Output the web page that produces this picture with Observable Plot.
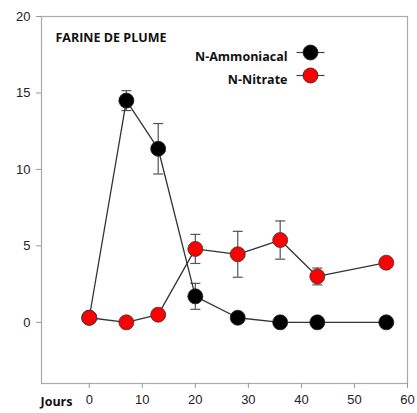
<!DOCTYPE html>
<html><head><meta charset="utf-8">
<script src="https://cdn.jsdelivr.net/npm/d3@7"></script>
<script src="https://cdn.jsdelivr.net/npm/@observablehq/plot@0.6"></script>
<style>body{margin:0;background:#fff}</style>
</head><body><div id="chart"></div>
<script>
const days = [0, 7, 13, 20, 28, 36, 43, 56];
const ammonia = [0.3, 14.5, 11.35, 1.7, 0.3, 0, 0, 0];
const ammoniaErr = [0, 0.65, 1.65, 0.85, 0, 0, 0, 0];
const nitrate = [0.3, 0, 0.5, 4.8, 4.45, 5.38, 3.0, 3.9];
const nitrateErr = [0, 0, 0, 0.95, 1.5, 1.25, 0.55, 0];
const xTicks = [0, 10, 20, 30, 40, 50, 60];
const yTicks = [0, 5, 10, 15, 20];
const seriesNames = ["N-Ammoniacal", "N-Nitrate"];
const seriesColors = ["#000000", "#ff0000"];
const title = "FARINE DE PLUME";
const xLabel = "Jours";

const amm = days.map((d, i) => ({x: d, y: ammonia[i], e: ammoniaErr[i]}));
const nit = days.map((d, i) => ({x: d, y: nitrate[i], e: nitrateErr[i]}));
const errs = [...amm, ...nit].filter(d => d.e > 0);
const cap = {draw(ctx) { ctx.moveTo(-5, 0); ctx.lineTo(5, 0); }};
const dash = {draw(ctx) { ctx.moveTo(-14, 0); ctx.lineTo(14, 0); }};
const bodyFont = "Liberation Sans, Arial, sans-serif";
const boldFont = "Open Sans, sans-serif";

const legendMarks = seriesNames.flatMap((s, i) => {
  const dy = 36 + i * 23;
  return [
    Plot.text([s], {frameAnchor: "top-left", dx: 246, dy, text: d => d, textAnchor: "end", fontWeight: "bold", fontFamily: boldFont, fontSize: 12.5, fill: "#111"}),
    Plot.dot([s], {frameAnchor: "top-left", dx: 269, dy, symbol: dash, stroke: "#444", strokeWidth: 1.2}),
    Plot.dot([s], {frameAnchor: "top-left", dx: 269, dy, r: 7.5, fill: seriesColors[i], stroke: "#222", strokeWidth: 0.8})
  ];
});

const chart = Plot.plot({
  width: 417, height: 413,
  marginLeft: 41, marginTop: 16, marginRight: 10, marginBottom: 30,
  style: {fontFamily: bodyFont, fontSize: "13px", color: "#222", background: "#fff"},
  x: {domain: [-9, 60], ticks: xTicks},
  y: {domain: [-4, 20], ticks: yTicks},
  marks: [
    Plot.frame({stroke: "#aaa", strokeWidth: 1.2}),
    Plot.axisX({ticks: xTicks, tickSize: 5, tickPadding: 6, stroke: "#999", fill: "#222", label: null, fontSize: 13}),
    Plot.axisY({ticks: yTicks, tickSize: 5, tickPadding: 6, stroke: "#999", fill: "#222", label: null, fontSize: 13}),
    Plot.ruleX(errs, {x: "x", y1: d => d.y - d.e, y2: d => d.y + d.e, stroke: "#555", strokeWidth: 1.2}),
    Plot.dot(errs, {x: "x", y: d => d.y - d.e, symbol: cap, stroke: "#555", strokeWidth: 1.2}),
    Plot.dot(errs, {x: "x", y: d => d.y + d.e, symbol: cap, stroke: "#555", strokeWidth: 1.2}),
    Plot.line(amm, {x: "x", y: "y", stroke: "#333", strokeWidth: 1.3}),
    Plot.dot(amm, {x: "x", y: "y", r: 7.5, fill: seriesColors[0], stroke: "#222", strokeWidth: 0.8}),
    Plot.line(nit, {x: "x", y: "y", stroke: "#333", strokeWidth: 1.3}),
    Plot.dot(nit, {x: "x", y: "y", r: 7.5, fill: seriesColors[1], stroke: "#333", strokeWidth: 0.8}),
    Plot.text([title], {frameAnchor: "top-left", dx: 14, dy: 17, text: d => d, textAnchor: "start", fontWeight: "bold", fontFamily: boldFont, fontSize: 12.5, fill: "#111"}),
    Plot.text([xLabel], {frameAnchor: "bottom-left", dx: -1, dy: 22, text: d => d, textAnchor: "start", fontWeight: "bold", fontFamily: boldFont, fontSize: 12.5, fill: "#111"}),
    ...legendMarks
  ]
});
document.getElementById("chart").append(chart);
</script></body></html>
